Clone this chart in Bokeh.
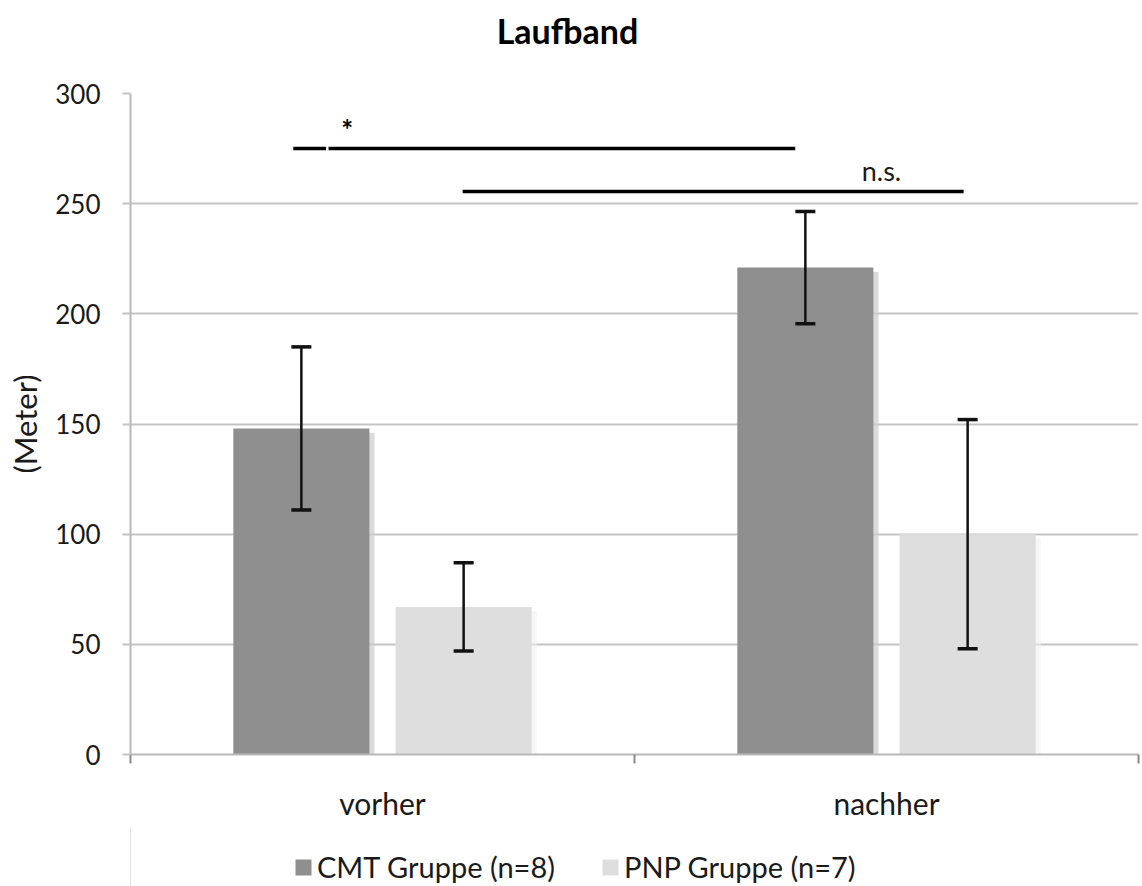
from bokeh.plotting import figure
from bokeh.layouts import column
from bokeh.models import (ColumnDataSource, FixedTicker, Whisker, TeeHead,
                          Legend, LegendItem, Label)
from bokeh.core.properties import value
from bokeh.embed import file_html
from bokeh.resources import INLINE

# --- data -------------------------------------------------------------
title = "Laufband"
categories = ["vorher", "nachher"]
groups = ["CMT Gruppe (n=8)", "PNP Gruppe (n=7)"]
cmt_mean = [148, 221]
cmt_err = [37, 25.5]
pnp_mean = [67, 100]
pnp_err = [20, 52]
y_ticks = [0, 50, 100, 150, 200, 250, 300]

# significance brackets
sig_star = dict(segments=[(0.323, 0.388), (0.393, 1.319)], y=275, label="*", lx=0.43, ly=284)
sig_ns = dict(segments=[(0.659, 1.653)], y=255.5, label="n.s.", lx=1.49, ly=265)

FONT = "Lato"
CMT_COLOR = "#8f8f8f"
PNP_COLOR = "#dedede"
GRID = "#c4c4c4"
TEXT = "#1a1a1a"

W = 1142
TITLE_H = 56
MAIN_H = 826 - TITLE_H
LEGEND_H = 60
FRAME_TOP = 93 - TITLE_H
FRAME_BOTTOM = 754 - TITLE_H
BORDER_L, BORDER_R = 130, 4

# --- geometry of the grouped bars -------------------------------------
bar_w = 0.27
off = 0.161
centers = [i + 0.5 for i in range(len(categories))]
cmt_x = [c - off for c in centers]
pnp_x = [c + off for c in centers]

cmt_src = ColumnDataSource(dict(
    x=cmt_x, top=cmt_mean,
    upper=[m + e for m, e in zip(cmt_mean, cmt_err)],
    lower=[m - e for m, e in zip(cmt_mean, cmt_err)],
    sx=[x + 0.01 for x in cmt_x], stop=[m - 2 for m in cmt_mean],
))
pnp_src = ColumnDataSource(dict(
    x=pnp_x, top=pnp_mean,
    upper=[m + e for m, e in zip(pnp_mean, pnp_err)],
    lower=[m - e for m, e in zip(pnp_mean, pnp_err)],
    sx=[x + 0.01 for x in pnp_x], stop=[m - 2 for m in pnp_mean],
))


def strip(height, x_range):
    """A bare, axis-less band used for the heading and the key."""
    f = figure(width=W, height=height, x_range=x_range, y_range=(0, 1),
               x_axis_type=None, y_axis_type=None,
               output_backend="svg", toolbar_location=None,
               min_border_left=BORDER_L, min_border_right=BORDER_R,
               min_border_top=0, min_border_bottom=0,
               outline_line_color=None,
               border_fill_color=None, background_fill_color=None)
    f.grid.visible = False
    return f


# --- title strip -----------------------------------------------------
tt = strip(TITLE_H, (0, 2))
tt.add_layout(Label(x=0.867, y=1 - 30 / TITLE_H, text=title, text_font=FONT,
                    text_font_size="34px", text_font_style="bold",
                    text_align="center", text_baseline="middle",
                    text_color="black"))

# --- main chart ------------------------------------------------------
p = figure(width=W, height=MAIN_H, x_range=(0, 2), y_range=(0, 300),
           output_backend="svg", toolbar_location=None,
           min_border_left=BORDER_L, min_border_right=BORDER_R,
           min_border_top=FRAME_TOP, min_border_bottom=MAIN_H - FRAME_BOTTOM,
           border_fill_color=None)
p.outline_line_color = None
p.background_fill_color = "white"

# soft drop shadow to the right of each bar
p.vbar(x="sx", top="stop", width=bar_w, source=cmt_src, fill_color="#cccccc",
       line_color=None, fill_alpha=0.7)
p.vbar(x="sx", top="stop", width=bar_w, source=pnp_src, fill_color="#f0f0f0",
       line_color=None, fill_alpha=0.6)

p.vbar(x="x", top="top", width=bar_w, source=cmt_src,
       fill_color=CMT_COLOR, line_color=None)
p.vbar(x="x", top="top", width=bar_w, source=pnp_src,
       fill_color=PNP_COLOR, line_color=None)

for src in (cmt_src, pnp_src):
    w = Whisker(base="x", upper="upper", lower="lower", source=src,
                line_color="#111111", line_width=2.5, level="overlay",
                upper_head=TeeHead(size=20, line_color="#111111", line_width=3.5),
                lower_head=TeeHead(size=20, line_color="#111111", line_width=3.5))
    p.add_layout(w)

# significance bars and their labels
for sig in (sig_star, sig_ns):
    p.segment(x0=[s[0] for s in sig["segments"]], x1=[s[1] for s in sig["segments"]],
              y0=sig["y"], y1=sig["y"], line_color="black", line_width=3.5)
p.text(x=[sig_star["lx"]], y=[sig_star["ly"]], text=[sig_star["label"]],
       text_font_size="28px", text_font_style="bold", text_align="center",
       text_baseline="middle", text_color="black", text_font=value(FONT))
p.text(x=[sig_ns["lx"]], y=[sig_ns["ly"]], text=[sig_ns["label"]],
       text_font_size="27px", text_align="center", text_baseline="middle",
       text_color=TEXT, text_font=value(FONT))

# axes
p.xgrid.visible = False
p.ygrid.grid_line_color = GRID
p.ygrid.grid_line_width = 2
p.ygrid.ticker = FixedTicker(ticks=y_ticks)

p.yaxis.ticker = FixedTicker(ticks=y_ticks)
p.yaxis.axis_line_color = "#b8b8b8"
p.yaxis.axis_line_width = 2
p.yaxis.major_tick_line_color = GRID
p.yaxis.major_tick_line_width = 2
p.yaxis.major_tick_out = 8
p.yaxis.major_tick_in = 0
p.yaxis.minor_tick_line_color = None
p.yaxis.major_label_standoff = 22
p.yaxis.major_label_text_font = FONT
p.yaxis.major_label_text_font_size = "26px"
p.yaxis.major_label_text_color = TEXT
p.yaxis.axis_label = "(Meter)"
p.yaxis.axis_label_text_font = FONT
p.yaxis.axis_label_text_font_size = "31px"
p.yaxis.axis_label_text_font_style = "normal"
p.yaxis.axis_label_text_color = TEXT
p.yaxis.axis_label_standoff = 8

p.xaxis.ticker = FixedTicker(ticks=centers, minor_ticks=[0, 1, 2])
p.xaxis.major_label_overrides = {c: lab for c, lab in zip(centers, categories)}
p.xaxis.axis_line_color = "#b8b8b8"
p.xaxis.axis_line_width = 2
p.xaxis.major_tick_line_color = None
p.xaxis.major_tick_out = 0
p.xaxis.major_tick_in = 0
p.xaxis.minor_tick_line_color = "#8a8a8a"
p.xaxis.minor_tick_line_width = 2
p.xaxis.minor_tick_out = 9
p.xaxis.minor_tick_in = 0
p.xaxis.major_label_standoff = 21
p.xaxis.major_label_text_font = FONT
p.xaxis.major_label_text_font_size = "30px"
p.xaxis.major_label_text_color = TEXT

# --- legend strip underneath the chart -------------------------------
lg = strip(LEGEND_H, (0, 1))
# key swatches: one point each, placed outside the strip's visible range
k_cmt = lg.vbar(x=[-5], top=[1], width=0.1, fill_color=CMT_COLOR, line_color=None)
k_pnp = lg.vbar(x=[-5], top=[1], width=0.1, fill_color=PNP_COLOR, line_color=None)
legend = Legend(items=[LegendItem(label=groups[0], renderers=[k_cmt]),
                       LegendItem(label=groups[1], renderers=[k_pnp])],
                orientation="horizontal", location=(163, 2),
                glyph_width=20, glyph_height=20, label_standoff=4, spacing=45,
                padding=0, margin=0, border_line_color=None,
                background_fill_alpha=0,
                label_text_font=FONT, label_text_font_size="29px",
                label_text_color=TEXT)
lg.add_layout(legend, "center")

open("out.html", "w").write(file_html(column(tt, p, lg, spacing=0), INLINE))
